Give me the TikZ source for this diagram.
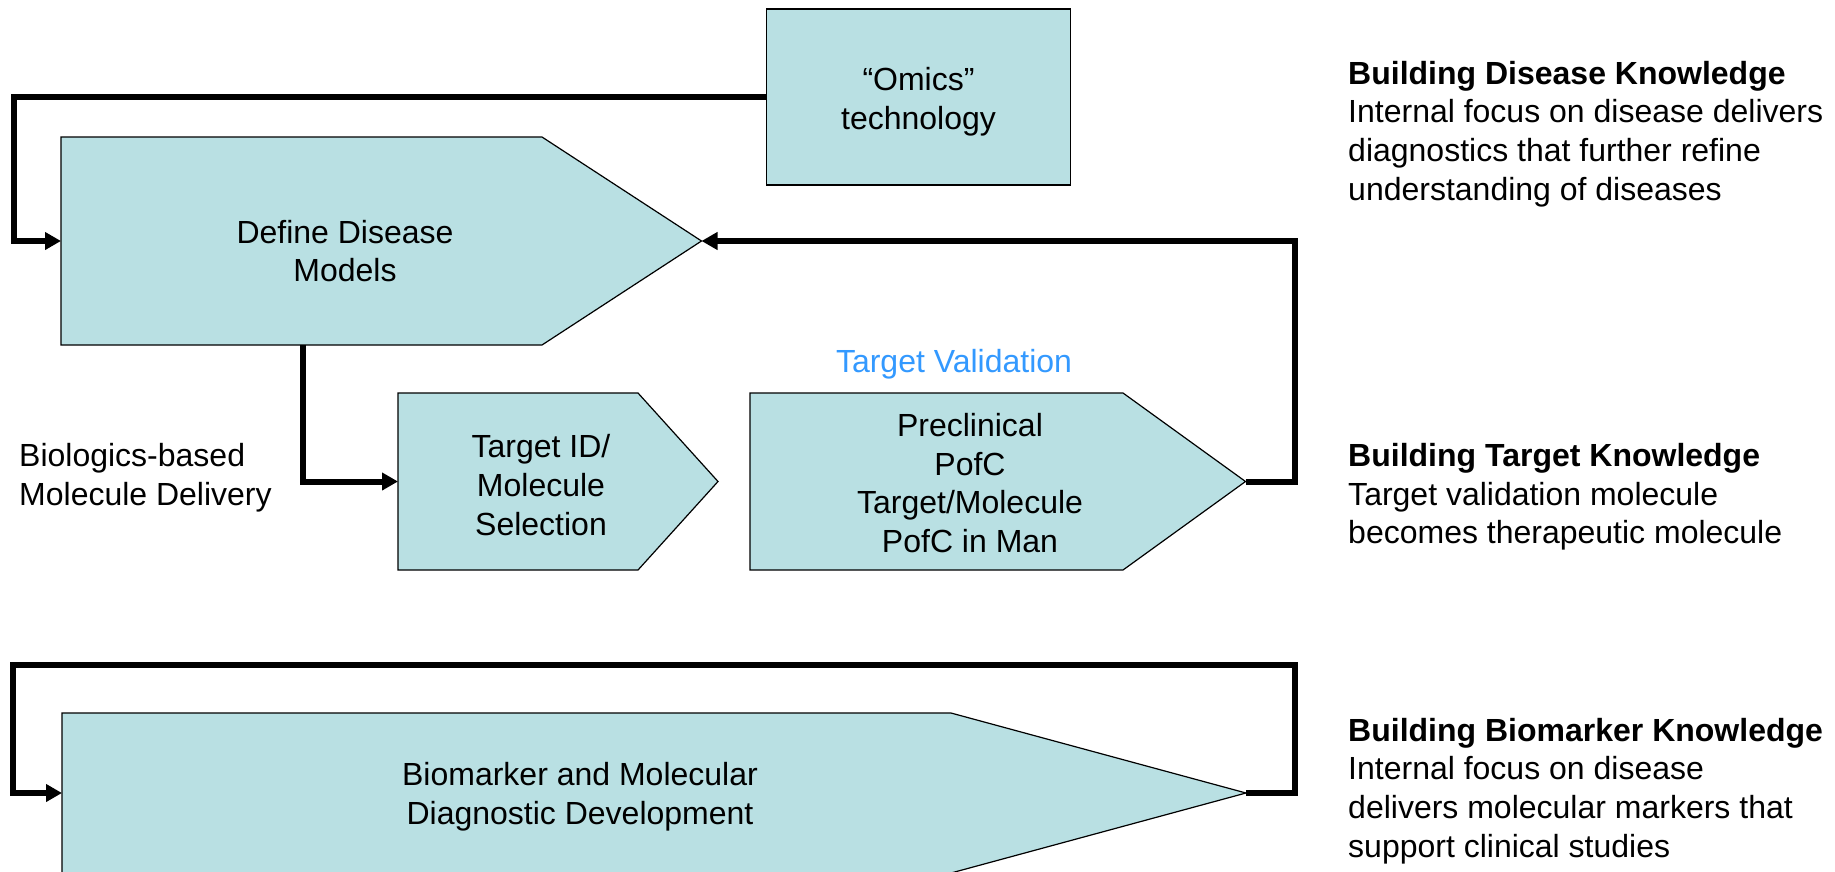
\documentclass[tikz,border=0pt]{standalone}
\usepackage{fontspec}
\setmainfont{Liberation Sans}
\usetikzlibrary{arrows.meta}

\definecolor{boxfill}{HTML}{B9E0E3}
\definecolor{tvblue}{HTML}{3399FF}

\tikzset{
  box/.style={draw=black, line width=1.2pt, fill=boxfill},
  flow/.style={line width=6pt, -{Triangle[length=16pt,width=17pt]}},
  txt/.style={font=\fontsize{32}{38.6}\selectfont, align=center, inner sep=0pt},
  side/.style={txt, align=left, anchor=west}
}

\begin{document}
\begin{tikzpicture}[x=1pt,y=-1pt]
    \useasboundingbox (0,0) rectangle (1835,872);

    % Boxes
    \node[box, minimum width=304pt, minimum height=176pt] (omics) at (918.5,97) {};
    \draw[box] (61,137) -- (542,137) -- (701.5,241) -- (542,345) -- (61,345) -- cycle;
    \draw[box] (398,393) -- (638,393) -- (718,481.5) -- (638,570) -- (398,570) -- cycle;
    \draw[box] (750,393) -- (1123,393) -- (1245.5,481.5) -- (1123,570) -- (750,570) -- cycle;
    \draw[box] (62,713) -- (951,713) -- (1246,793) -- (951,873) -- (62,873) -- cycle;

    % Box texts
    \node[txt] (omicstext) at (918.5,102) {“Omics”\\technology};
    \node[txt] (define) at (345,251) {Define Disease\\Models};
    \node[txt] (targetid) at (541,485) {Target ID/\\Molecule\\Selection};
    \node[txt] (preclin) at (970,483) {Preclinical\\PofC\\Target/Molecule\\PofC in Man};
    \node[txt] (biomarker) at (580,797) {Biomarker and Molecular\\Diagnostic Development};
    \node[txt, text=tvblue] (tvlabel) at (954,364) {Target Validation};
    \node[side] (biologics) at (19,478) {Biologics-based\\Molecule Delivery};

    % Notes on the right
    \node[side] (diseasenote) at (1348,134) {\textbf{Building Disease Knowledge}\\Internal focus on disease delivers\\diagnostics that further refine\\understanding of diseases};
    \node[side] (targetnote) at (1348,497) {\textbf{Building Target Knowledge}\\Target validation molecule\\becomes therapeutic molecule};
    \node[side] (biomarkernote) at (1348,791) {\textbf{Building Biomarker Knowledge}\\Internal focus on disease\\delivers molecular markers that\\support clinical studies};

    % Connector end points
    \coordinate (definein) at (61,241);
    \coordinate (definetip) at (701.5,241);
    \coordinate (definebot) at (302.5,345);
    \coordinate (targetin) at (398,481.5);
    \coordinate (tvtip) at (1245.5,481.5);
    \coordinate (bioin) at (62,793);
    \coordinate (biotip) at (1246,793);

    % Connectors
    \draw[flow] (omics.west) -- (14,97) |- (definein);
    \draw[flow] (definebot) |- (targetin);
    \draw[flow] (tvtip) -- (1295,481.5) |- (definetip);
    \draw[flow] (biotip) -- (1295,793) -- (1295,665) -- (13,665) |- (bioin);
\end{tikzpicture}
\end{document}
